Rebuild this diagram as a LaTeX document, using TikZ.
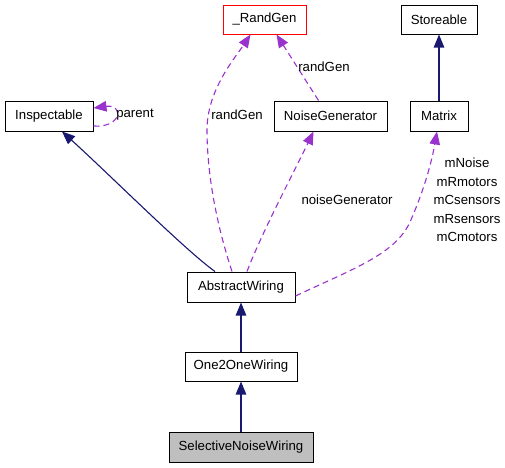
\documentclass[tikz,border=0pt]{standalone}
\usepackage{fontspec}
\setmainfont{Liberation Sans}
\usetikzlibrary{arrows.meta}
\definecolor{navyc}{HTML}{191970}
\definecolor{purp}{HTML}{9A32CD}
\definecolor{grayfill}{HTML}{BFBFBF}
\begin{document}
\begin{tikzpicture}[x=1pt,y=-1pt,
  box/.style={draw=black,line width=1pt,fill=white,inner sep=0pt,font=\fontsize{13.2}{15}\selectfont},
  inh/.style={draw=navyc,line width=1.1pt,-{Triangle[length=13pt,width=10.5pt]}},
  use/.style={draw=purp,line width=1.1pt,dash pattern=on 6pt off 4pt,-{Triangle[length=13pt,width=10.5pt]}},
  lbl/.style={font=\fontsize{13.2}{15}\selectfont,inner sep=0pt},
]
\useasboundingbox (0,0) rectangle (505,467);
\node[box,draw=red,minimum width=83pt,minimum height=29pt] (rg) at (264.5,19.5) {\_RandGen};
\node[box,minimum width=76pt,minimum height=29pt] (st) at (439,19.5) {Storeable};
\node[box,minimum width=88pt,minimum height=30pt] (insp) at (49,116) {Inspectable};
\node[box,minimum width=113pt,minimum height=30pt] (ng) at (330.5,116) {NoiseGenerator};
\node[box,minimum width=58pt,minimum height=30pt] (mx) at (439,116) {Matrix};
\node[box,minimum width=108pt,minimum height=30pt] (aw) at (241,287) {AbstractWiring};
\node[box,minimum width=112pt,minimum height=29pt] (oo) at (241,366.5) {One2OneWiring};
\node[box,fill=grayfill,minimum width=144pt,minimum height=30pt] (sn) at (241,447) {SelectiveNoiseWiring};

% inheritance
\draw[inh] (sn.north) -- (oo.south);
\draw[inh] (oo.north) -- (aw.south);
\draw[inh] (mx.north) -- (st.south);
\draw[inh] ([xshift=-26pt]aw.north) .. controls (185,250) and (110,175) .. ([xshift=13pt]insp.south);

% usage
\draw[use] ([yshift=-10pt]insp.east) .. controls (122,128) and (124,104) .. ([yshift=8pt]insp.east);
\node[lbl] (lparent) at (135,115) {parent};

\draw[use] ([xshift=-9pt]aw.north) .. controls (215,220) and (207,170) .. (207,130)
  .. controls (207,90) and (235,58) .. ([xshift=-14pt]rg.south);
\node[lbl] (lrg1) at (237,115) {randGen};

\draw[use] ([xshift=-12pt]ng.north) -- ([xshift=12pt]rg.south);
\node[lbl] (lrg2) at (324,67) {randGen};

\draw[use] ([xshift=6pt]aw.north) .. controls (262,232) and (295,170) .. ([xshift=-17pt]ng.south);
\node[lbl] (lng) at (347,200) {noiseGenerator};

\draw[use] ([yshift=-9pt]aw.east) .. controls (350,270) and (395,255) .. (410,222)
  .. controls (425,188) and (432,160) .. ([xshift=-2pt]mx.south);
\node[lbl,align=center] (lmx) at (467,200) {mNoise\\[3.5pt]mRmotors\\[3.5pt]mCsensors\\[3.5pt]mRsensors\\[3.5pt]mCmotors};
\end{tikzpicture}
\end{document}
